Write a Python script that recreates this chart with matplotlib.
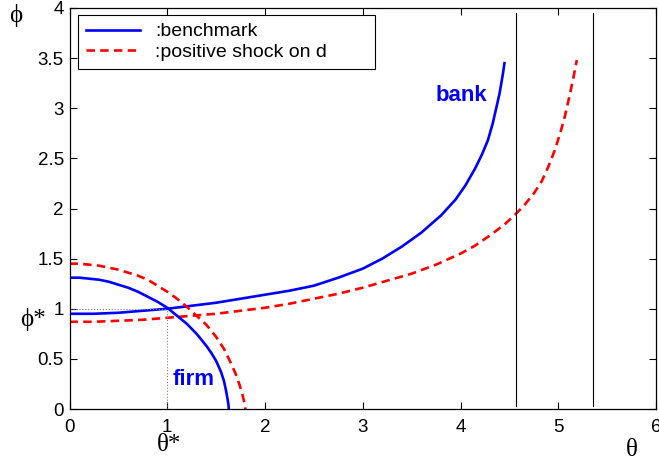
import numpy as np
import matplotlib
matplotlib.use('Agg')
import matplotlib.pyplot as plt

# firm curves
firm_bench_theta = [0, 0.1, 0.2, 0.3, 0.4, 0.5, 0.6, 0.7, 0.8, 0.9, 1.0, 1.1, 1.2, 1.3, 1.4, 1.45, 1.5, 1.55, 1.58, 1.6, 1.615, 1.625, 1.63]
firm_bench_phi = [1.31, 1.31, 1.30, 1.29, 1.27, 1.24, 1.21, 1.17, 1.12, 1.07, 1.01, 0.93, 0.85, 0.75, 0.63, 0.56, 0.48, 0.37, 0.28, 0.19, 0.11, 0.05, 0.0]

firm_shock_theta = [0, 0.1, 0.2, 0.3, 0.4, 0.5, 0.6, 0.7, 0.8, 0.9, 1.0, 1.1, 1.2, 1.3, 1.4, 1.5, 1.58, 1.65, 1.7, 1.74, 1.77, 1.79, 1.80]
firm_shock_phi = [1.45, 1.45, 1.44, 1.43, 1.41, 1.39, 1.36, 1.33, 1.29, 1.23, 1.17, 1.10, 1.02, 0.93, 0.84, 0.72, 0.60, 0.46, 0.35, 0.24, 0.14, 0.06, 0.0]

# bank curves
bank_bench_theta = [0, 0.25, 0.5, 0.75, 1.0, 1.25, 1.5, 1.75, 2.0, 2.25, 2.5, 2.75, 3.0, 3.2, 3.4, 3.6, 3.8, 3.95, 4.05, 4.15, 4.22, 4.28, 4.33, 4.37, 4.40, 4.43, 4.45]
bank_bench_phi = [0.95, 0.95, 0.96, 0.98, 1.0, 1.03, 1.06, 1.10, 1.14, 1.18, 1.23, 1.31, 1.40, 1.50, 1.62, 1.76, 1.93, 2.09, 2.23, 2.40, 2.54, 2.68, 2.85, 3.02, 3.15, 3.32, 3.45]

bank_shock_theta = [0, 0.25, 0.5, 0.75, 1.0, 1.25, 1.5, 1.75, 2.0, 2.25, 2.5, 2.75, 3.0, 3.25, 3.5, 3.75, 4.0, 4.15, 4.3, 4.45, 4.56, 4.65, 4.75, 4.83, 4.9, 4.96, 5.02, 5.07, 5.11, 5.15, 5.19]
bank_shock_phi = [0.87, 0.87, 0.88, 0.89, 0.91, 0.93, 0.95, 0.98, 1.01, 1.05, 1.10, 1.15, 1.21, 1.28, 1.35, 1.44, 1.55, 1.63, 1.73, 1.84, 1.94, 2.03, 2.15, 2.27, 2.42, 2.57, 2.75, 2.93, 3.10, 3.28, 3.48]

# vertical asymptotes
vlines_theta = [4.57, 5.36]
eq_theta, eq_phi = 1.0, 1.0

xticks = [0, 1, 2, 3, 4, 5, 6]
yticks = [0, 0.5, 1, 1.5, 2, 2.5, 3, 3.5, 4]
ytick_labels = ['0', '0.5', '1', '1.5', '2', '2.5', '3', '3.5', '4']

plt.rcParams['font.family'] = ['Liberation Sans', 'DejaVu Sans']

fig = plt.figure(figsize=(6.59, 4.63), dpi=100)
ax = fig.add_axes([69.5/659, 1-409/463, 586.5/659, 401/463])

lw = 1.9
dash = (3.2, 2.0)
ax.plot(bank_bench_theta, bank_bench_phi, color='#0000ff', lw=lw, label=':benchmark')
l2, = ax.plot(bank_shock_theta, bank_shock_phi, color='#ff0000', lw=lw, ls='--', label=':positive shock on d')
l2.set_dashes(dash)
ax.plot(firm_bench_theta, firm_bench_phi, color='#0000ff', lw=lw)
l4, = ax.plot(firm_shock_theta, firm_shock_phi, color='#ff0000', lw=lw, ls='--')
l4.set_dashes(dash)

for v in vlines_theta:
    ax.plot([v, v], [0.03, 3.95], color='black', lw=0.8)

ax.plot([0, eq_theta], [eq_phi, eq_phi], color='gray', lw=0.8, ls=':')
ax.plot([eq_theta, eq_theta], [0, eq_phi], color='gray', lw=0.8, ls=':')

ax.text(3.74, 3.13, 'bank', color='#0000ff', fontsize=16, fontweight='bold', va='center')
ax.text(1.06, 0.29, 'firm', color='#0000ff', fontsize=16, fontweight='bold', va='center')

serif = ['Liberation Serif', 'DejaVu Serif']
ax.text(-0.55, 3.93, 'ϕ', family=serif, fontsize=18, ha='center', va='center', clip_on=False)
ax.text(-0.37, 0.89, 'ϕ*', family=serif, fontsize=18, ha='center', va='center', clip_on=False)
ax.text(1.02, -0.36, 'θ*', family=serif, fontsize=18, ha='center', va='center', clip_on=False)
ax.text(5.75, -0.41, 'θ', family=serif, fontsize=18, ha='center', va='center', clip_on=False)

ax.set_xlim(0, 6)
ax.set_ylim(0, 4)
ax.set_xticks(xticks)
ax.set_yticks(yticks)
ax.set_yticklabels(ytick_labels)
ax.tick_params(direction='in', length=5, width=0.8, top=True, right=True, labelsize=13.5)
ax.tick_params(axis='x', pad=7)
ax.tick_params(axis='y', pad=4)
for s in ax.spines.values():
    s.set_linewidth(0.9)

leg = ax.legend(loc='upper left', bbox_to_anchor=(0.0145, 0.833, 0.5065, 0.1495), mode='expand',
                borderaxespad=0, fontsize=14, handlelength=2.8, handletextpad=0.75,
                fancybox=False, edgecolor='black', framealpha=1, borderpad=0.4, labelspacing=0.15)
leg.get_frame().set_linewidth(0.8)

fig.savefig('out.png', dpi=100)
